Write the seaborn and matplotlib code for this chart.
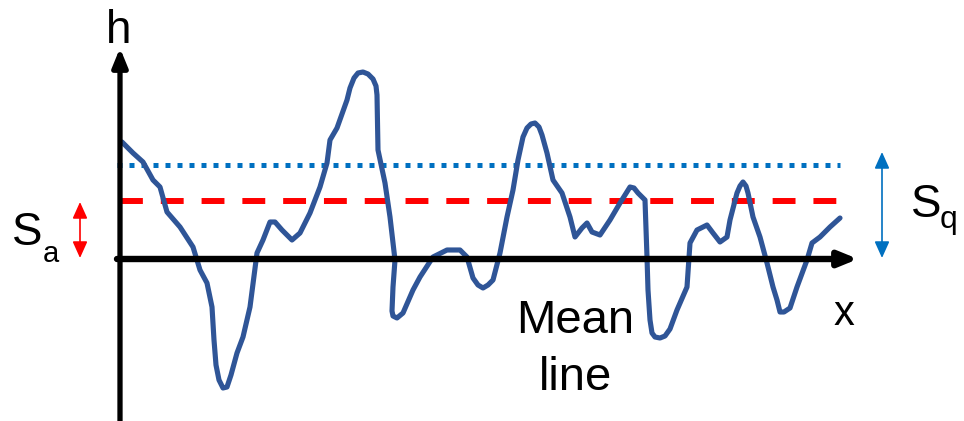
import matplotlib
matplotlib.use("Agg")
import matplotlib.pyplot as plt
import seaborn as sns
import pandas as pd

# Surface profile (x position, height relative to mean line)
profile_x = [122, 133, 143, 153, 160, 167, 180, 193, 200, 207, 212, 214, 216, 219, 223, 227, 231, 237,
             243, 250, 257, 263, 270, 275, 282, 292, 300, 310, 320, 327, 330, 337, 347, 350, 354, 358,
             363, 368, 373, 376, 377, 378, 385, 390, 395, 393, 392, 393, 397, 403, 413, 420, 433, 447,
             460, 467, 473, 478, 483, 488, 493, 500, 507, 513, 518, 523, 527, 531, 535, 539, 542, 547,
             553, 562, 570, 575, 582, 587, 592, 600, 610, 620, 630, 634, 638, 645, 647, 648, 650, 652,
             655, 660, 665, 670, 677, 687, 690, 697, 707, 713, 720, 727, 730, 737, 740, 743, 746, 748,
             753, 760, 767, 773, 777, 780, 784, 790, 797, 807, 812, 820, 830, 840]
profile_h = [117, 106, 97, 79, 72, 47, 32, 12, -11, -24, -48, -81, -106, -121, -129, -128, -116, -94,
             -78, -48, 6, 19, 37, 37, 29, 19, 26, 46, 72, 96, 119, 131, 159, 171, 181, 186,
             187, 185, 180, 173, 164, 109, 76, 42, -1, -28, -52, -57, -59, -54, -31, -18, 2, 9,
             9, 2, -19, -26, -29, -26, -21, 6, 42, 69, 99, 122, 131, 135, 136, 132, 124, 106,
             79, 66, 42, 22, 31, 36, 27, 24, 39, 56, 72, 71, 66, 59, 2, -31, -61, -74,
             -78, -79, -77, -70, -51, -28, 16, 29, 34, 26, 17, 22, 39, 66, 73, 77, 73, 66,
             42, 22, -4, -28, -41, -53, -53, -49, -28, -1, 16, 22, 32, 41]

Sa = 58   # arithmetic mean height
Sq = 94   # root mean square height
mean_line = 0

labels = {"h": "h", "x": "x", "mean": ["Mean", "line"], "Sa": ("S", "a"), "Sq": ("S", "q")}

df = pd.DataFrame({"x": profile_x, "h": profile_h})

sns.set_theme(style="white")
plt.rcParams["font.family"] = ["Liberation Sans", "DejaVu Sans"]

fig = plt.figure(figsize=(9.64, 4.21), dpi=100)
ax = fig.add_axes([0, 0, 1, 1])
ax.set_xlim(0, 964)
ax.set_ylim(-162, 259)
ax.axis("off")

# reference lines
ax.plot([117, 840], [Sq, Sq], color="#0070C0", lw=3.6, linestyle=(0, (1, 1.4)))
ax.plot([120, 842], [Sa, Sa], color="#FF0000", lw=4.3, linestyle=(0, (3.83, 3.0)))

# axes with arrows
ax.annotate("", xy=(120, 211), xytext=(120, -165),
            arrowprops=dict(arrowstyle="-|>,head_length=1.1,head_width=0.45", lw=3.8,
                            color="black", shrinkA=0, shrinkB=0, mutation_scale=10))
ax.annotate("", xy=(858, mean_line), xytext=(117, mean_line),
            arrowprops=dict(arrowstyle="-|>,head_length=1.1,head_width=0.45", lw=4.6,
                            color="black", shrinkA=0, shrinkB=0, mutation_scale=10))

# profile curve
sns.lineplot(data=df, x="x", y="h", sort=False, estimator=None, color="#2F5597",
             lw=3.7, ax=ax, solid_joinstyle="round", solid_capstyle="round")

# Sq and Sa double arrows
ax.annotate("", xy=(882, Sq + 13), xytext=(882, 1),
            arrowprops=dict(arrowstyle="<|-|>,head_length=1.0,head_width=0.45", lw=1.2,
                            color="#0070C0", shrinkA=0, shrinkB=0, mutation_scale=10))
ax.annotate("", xy=(80, Sa - 1), xytext=(80, 1),
            arrowprops=dict(arrowstyle="<|-|>,head_length=1.0,head_width=0.45", lw=1.2,
                            color="#FF0000", shrinkA=0, shrinkB=0, mutation_scale=10))

# texts
ax.text(119, 216, labels["h"], fontsize=33, ha="center", va="baseline", color="black")
ax.text(844, -66, labels["x"], fontsize=30, ha="center", va="baseline", color="black")
ax.text(575, -74, labels["mean"][0], fontsize=34, ha="center", va="baseline", color="black")
ax.text(575, -131, labels["mean"][1], fontsize=34, ha="center", va="baseline", color="black")
ax.text(12, 259 - 245, labels["Sa"][0], fontsize=33, ha="left", va="baseline", color="black")
ax.text(43, 259 - 262, labels["Sa"][1], fontsize=21, ha="left", va="baseline", color="black")
ax.text(911, 259 - 217, labels["Sq"][0], fontsize=33, ha="left", va="baseline", color="black")
ax.text(940, 259 - 228, labels["Sq"][1], fontsize=23, ha="left", va="baseline", color="black")

fig.savefig("out.png", dpi=100)
